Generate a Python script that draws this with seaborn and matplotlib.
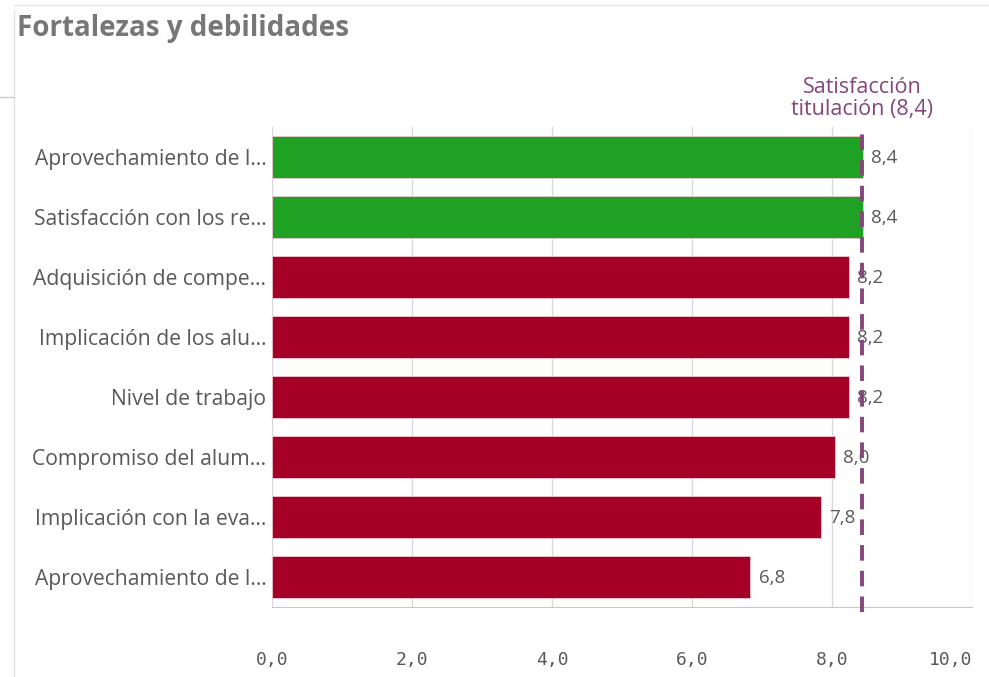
import pandas as pd
import seaborn as sns
import matplotlib.pyplot as plt
from matplotlib.ticker import FuncFormatter
from matplotlib.lines import Line2D

# data
categorias = ["Aprovechamiento de l…", "Satisfacción con los re…",
              "Adquisición de compe…", "Implicación de los alu…",
              "Nivel de trabajo", "Compromiso del alum…",
              "Implicación con la eva…", "Aprovechamiento de l…"]
valores = [8.44, 8.44, 8.24, 8.24, 8.24, 8.04, 7.84, 6.83]
etiquetas = ["8,4", "8,4", "8,2", "8,2", "8,2", "8,0", "7,8", "6,8"]
referencia = 8.43
ref_texto = "Satisfacción\ntitulación (8,4)"
colores = ["#1fa224", "#1fa224", "#a50026", "#a50026",
           "#a50026", "#a50026", "#a50026", "#a50026"]
x_ticks = [0, 2, 4, 6, 8, 10]

gris = "#595959"
morado = "#85467a"

sns.set_style("white")
plt.rcParams['font.family'] = ['Open Sans', 'DejaVu Sans']

fig = plt.figure(figsize=(9.89, 6.77), dpi=100)
ax = fig.add_axes([0.275, 0.1034, 0.708, 0.709])

# unique ids so duplicated names stay separate bars
df = pd.DataFrame({"id": [str(i) for i in range(len(categorias))],
                   "valor": valores})
ax.grid(axis="x", color="#d9d9d9", linewidth=1)
ax.set_axisbelow(True)
sns.barplot(data=df, x="valor", y="id", hue="id", palette=colores,
            saturation=1, legend=False, width=0.7, orient="h", ax=ax,
            edgecolor="#f0c8d2", linewidth=0.6)

ax.set_xlim(0, 10)
ax.set_ylim(7.5, -0.5)
ax.set_xticks(x_ticks)
ax.xaxis.set_major_formatter(FuncFormatter(lambda v, p: f"{v:.1f}".replace(".", ",")))
ax.set_yticks(range(len(categorias)))
ax.set_yticklabels(categorias)
ax.set_xlabel("")
ax.set_ylabel("")

ax.tick_params(axis="y", length=0, pad=4, labelsize=15.2, labelcolor=gris)
ax.tick_params(axis="x", length=10, width=1, color="#c8c8c8", pad=22,
               labelsize=13, labelcolor=gris)
xlabs = ax.get_xticklabels()
for lab in xlabs:
    lab.set_fontfamily("DejaVu Sans Mono")
xlabs[-1].set_horizontalalignment("right")
xlabs[-1].set_x(10.05)

for s in ["top", "left", "right"]:
    ax.spines[s].set_visible(False)
ax.spines["bottom"].set_color("#c8c8c8")

# value labels
for i, (v, t) in enumerate(zip(valores, etiquetas)):
    ax.text(v + 0.12, i + 0.02, t, va="center", ha="left", fontsize=13.5, color=gris)

# reference line
ax.axvline(referencia, color=morado, linewidth=2.8, linestyle=(0, (4, 2.6)),
           ymin=-0.01, ymax=1.005, clip_on=False, zorder=5)
ax.text(referencia, -0.62, ref_texto, ha="center", va="bottom", fontsize=15.5,
        color=morado, linespacing=1.05)

fig.text(0.017, 0.958, "Fortalezas y debilidades", fontsize=20,
         fontweight="bold", color="#777777", va="center", ha="left")

# surrounding dashboard frame lines
fig.add_artist(Line2D([0.0142, 0.0142], [0, 0.985], color="#e4e4e4", lw=1))
fig.add_artist(Line2D([0.0142, 1.0], [0.993, 0.993], color="#e4e4e4", lw=1))
fig.add_artist(Line2D([0, 0.0142], [0.857, 0.857], color="#cccccc", lw=1))

fig.savefig("out.png", dpi=100)
